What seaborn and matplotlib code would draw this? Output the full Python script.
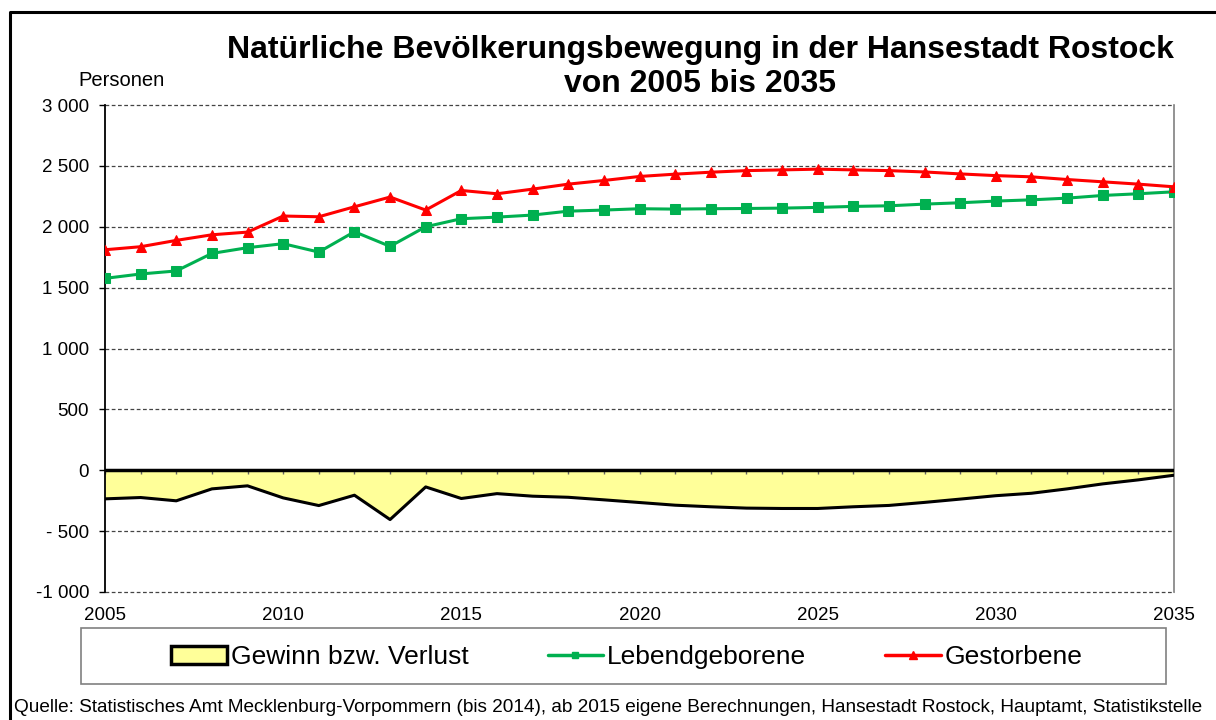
import numpy as np
import pandas as pd
import matplotlib
matplotlib.use("Agg")
import matplotlib.pyplot as plt
from matplotlib.patches import Patch, Rectangle
from matplotlib.lines import Line2D
import seaborn as sns

years = list(range(2005, 2036))
lebendgeborene = [1576, 1612, 1637, 1781, 1828, 1861, 1792, 1959, 1839, 2000,
                  2066, 2079, 2096, 2128, 2137, 2148, 2145, 2148, 2150, 2153,
                  2159, 2167, 2172, 2186, 2197, 2211, 2221, 2235, 2257, 2271, 2287]
gestorbene = [1811, 1836, 1888, 1934, 1956, 2088, 2082, 2164, 2244, 2137,
              2298, 2271, 2309, 2350, 2380, 2413, 2432, 2448, 2461, 2467,
              2473, 2467, 2461, 2450, 2434, 2420, 2410, 2388, 2369, 2350, 2328]
y_ticks = [3000, 2500, 2000, 1500, 1000, 500, 0, -500, -1000]
y_labels = ["3 000", "2 500", "2 000", "1 500", "1 000", "500", "0", "- 500", "-1 000"]
x_ticks = [2005, 2010, 2015, 2020, 2025, 2030, 2035]

df = pd.DataFrame({"Jahr": years, "Lebendgeborene": lebendgeborene, "Gestorbene": gestorbene})
df["Saldo"] = df["Lebendgeborene"] - df["Gestorbene"]

sns.set_theme(style="white")
plt.rcParams["font.family"] = ["Liberation Sans", "DejaVu Sans"]
plt.rcParams["text.color"] = "black"
plt.rcParams["xtick.color"] = "black"
plt.rcParams["ytick.color"] = "black"

fig = plt.figure(figsize=(12.16, 7.2), dpi=100)
W, H = 1216, 720
ax = fig.add_axes([105 / W, 1 - 592 / H, (1174 - 105) / W, (592 - 105) / H])

# area
ax.fill_between(df["Jahr"], df["Saldo"], 0, color="#FFFF99", zorder=1, linewidth=0)
ax.plot(df["Jahr"], df["Saldo"], color="black", linewidth=2.2, zorder=3)

sns.lineplot(data=df, x="Jahr", y="Lebendgeborene", ax=ax, color="#00B050",
             marker="s", markersize=6.5, markeredgecolor="#00B050", linewidth=2.2, zorder=4)
sns.lineplot(data=df, x="Jahr", y="Gestorbene", ax=ax, color="#FF0000",
             marker="^", markersize=7.5, markeredgecolor="#FF0000", linewidth=2.2, zorder=5)

ax.set_xlim(2005, 2035)
ax.set_ylim(-1000, 3000)
ax.set_yticks(y_ticks)
ax.set_yticklabels(y_labels, fontsize=13.5)
ax.set_xticks(x_ticks)
ax.set_xticklabels([str(x) for x in x_ticks], fontsize=13.5)
ax.set_xlabel("")
ax.set_ylabel("")
for yv in y_ticks:
    if yv != 0:
        ax.axhline(yv, color="#444444", linestyle=(0, (3, 2)), linewidth=0.9, zorder=0,
                   clip_on=False)
ax.axhline(0, color="black", linewidth=2.5, zorder=3)
ax.vlines(years, -30, 0, color="#666666", linewidth=1, zorder=2)

ax.tick_params(axis="y", left=True, length=4.5, width=1, color="black", pad=7)
ax.tick_params(axis="x", bottom=False, pad=5)
for s in ["top", "bottom"]:
    ax.spines[s].set_visible(False)
ax.spines["right"].set_color("#808080")
ax.spines["right"].set_linewidth(1.2)
ax.spines["left"].set_color("black")
ax.spines["left"].set_linewidth(1.3)

fig.text(700 / W, 1 - 50 / H, "Natürliche Bevölkerungsbewegung in der Hansestadt Rostock",
         ha="center", va="center", fontsize=23, fontweight="bold")
fig.text(700 / W, 1 - 84 / H, "von 2005 bis 2035",
         ha="center", va="center", fontsize=23, fontweight="bold")
fig.text(121 / W, 1 - 81 / H, "Personen", ha="center", va="center", fontsize=14.5)

handles = [Patch(facecolor="#FFFF99", edgecolor="black", linewidth=2.5),
           Line2D([0], [0], color="#00B050", marker="s", markersize=5, linewidth=2.5),
           Line2D([0], [0], color="#FF0000", marker="^", markersize=6, linewidth=2.5)]
labels = ["Gewinn bzw. Verlust", "Lebendgeborene", "Gestorbene"]
leg = fig.legend(handles, labels, loc="center", bbox_to_anchor=(627 / W, 1 - 657 / H),
                 ncol=3, fontsize=19, frameon=False,
                 handlelength=2.1, handleheight=0.7, handletextpad=0.15, columnspacing=3.0)
fig.patches.append(Rectangle((81 / W, 1 - 684 / H), (1166 - 81) / W, (684 - 628) / H,
                             transform=fig.transFigure, fill=False, edgecolor="#808080",
                             linewidth=1.2))

fig.text(608 / W, 1 - 708 / H,
         "Quelle: Statistisches Amt Mecklenburg-Vorpommern (bis 2014), ab 2015 eigene Berechnungen, Hansestadt Rostock, Hauptamt, Statistikstelle",
         ha="center", va="center", fontsize=13.7)

# outer frame (top and left edges visible)
fig.lines.append(Line2D([10 / W, 10 / W, 1.0], [0.0, 1 - 12 / H, 1 - 12 / H],
                        transform=fig.transFigure, color="black", linewidth=2.2))

fig.savefig("out.png", dpi=100)
